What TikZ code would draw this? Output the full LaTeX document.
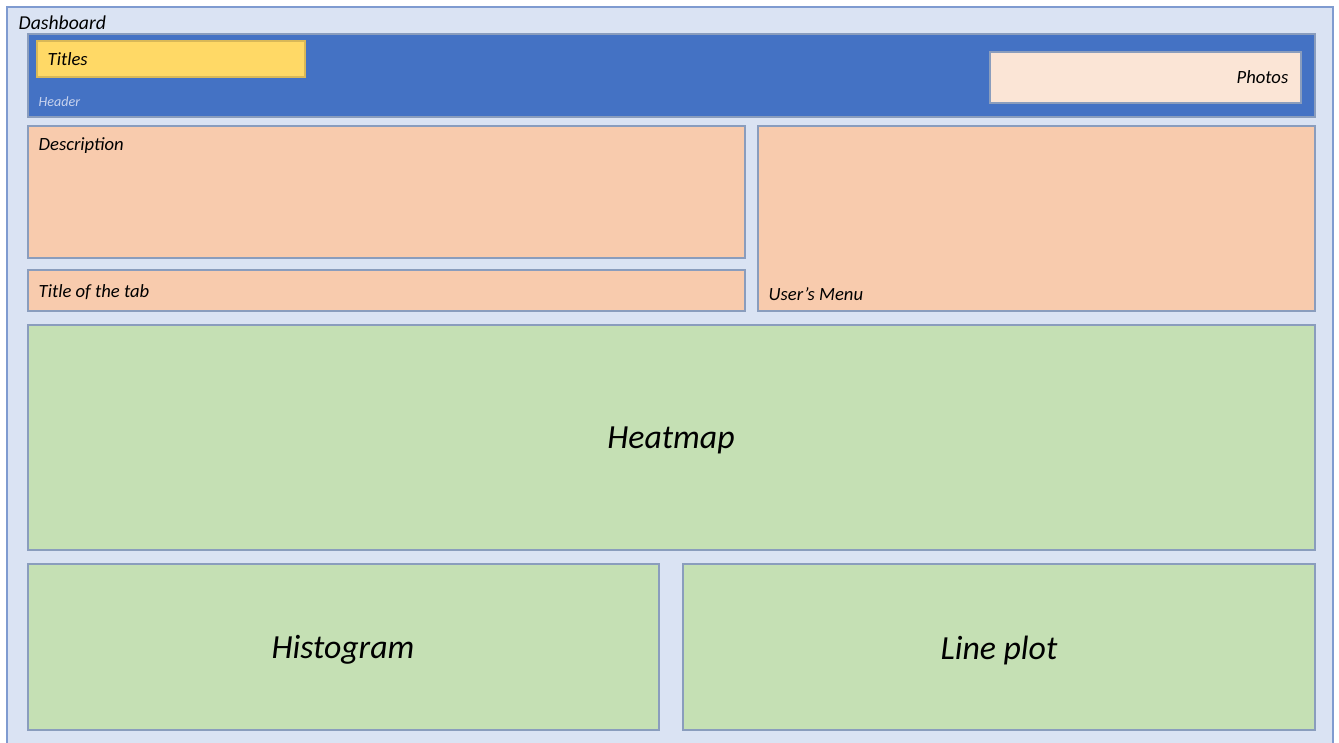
\documentclass[tikz,border=0pt]{standalone}
\usepackage{fontspec}
\setmainfont{Carlito}
\definecolor{pagebg}{HTML}{DAE3F3}
\definecolor{pageline}{HTML}{7F9BD0}
\definecolor{headblue}{HTML}{4472C4}
\definecolor{titleyel}{HTML}{FFD966}
\definecolor{photofill}{HTML}{FBE5D6}
\definecolor{peach}{HTML}{F8CBAD}
\definecolor{sage}{HTML}{C5E0B4}
\definecolor{boxline}{HTML}{8A9DBD}
\definecolor{headtext}{HTML}{C8D3EE}
\tikzset{
  panel/.style={fill=#1,draw=boxline,line width=0.4pt},
  lbl/.style={font=\fontsize{5.3}{6}\selectfont\itshape,inner sep=0pt},
  biglbl/.style={font=\fontsize{9.6}{11}\selectfont\itshape,inner sep=0pt}
}
\begin{document}
\begin{tikzpicture}[x=0.01cm,y=-0.01cm]
\useasboundingbox (0,0) rectangle (1339,742);

% page
\filldraw[fill=pagebg,draw=pageline,line width=0.6pt](7,7)rectangle(1333,760);
\node[lbl,anchor=base west,font=\fontsize{5.6}{6}\selectfont\itshape] (dash) at (18,29) {Dashboard};

% header
\filldraw[panel=headblue](28,34)rectangle(1315,117);
\filldraw[panel=titleyel,draw=titleyel!85!black](37,41)rectangle(305,77);
\filldraw[panel=photofill](990,52)rectangle(1301,103);
\node[lbl,anchor=base west] (titles) at (47,65) {Titles};
\node[lbl,anchor=base east] (photos) at (1289,83) {Photos};
\node[lbl,anchor=base west,text=headtext,font=\fontsize{4}{5}\selectfont\itshape] (header) at (38,106) {Header};

% text blocks
\filldraw[panel=peach](28,126)rectangle(745,258);
\filldraw[panel=peach](28,270)rectangle(745,311);
\filldraw[panel=peach](758,126)rectangle(1315,311);
\node[lbl,anchor=base west] (desc) at (38,150) {Description};
\node[lbl,anchor=base west] (tab) at (38,297) {Title of the tab};
\node[lbl,anchor=base west] (menu) at (768,300) {User’s Menu};

% plots
\filldraw[panel=sage](28,325)rectangle(1315,550);
\filldraw[panel=sage](28,564)rectangle(659,730);
\filldraw[panel=sage](683,564)rectangle(1315,730);
\node[biglbl] (heat) at (671,440) {Heatmap};
\node[biglbl] (hist) at (343,650) {Histogram};
\node[biglbl] (line) at (999,650) {Line plot};

\end{tikzpicture}
\end{document}
